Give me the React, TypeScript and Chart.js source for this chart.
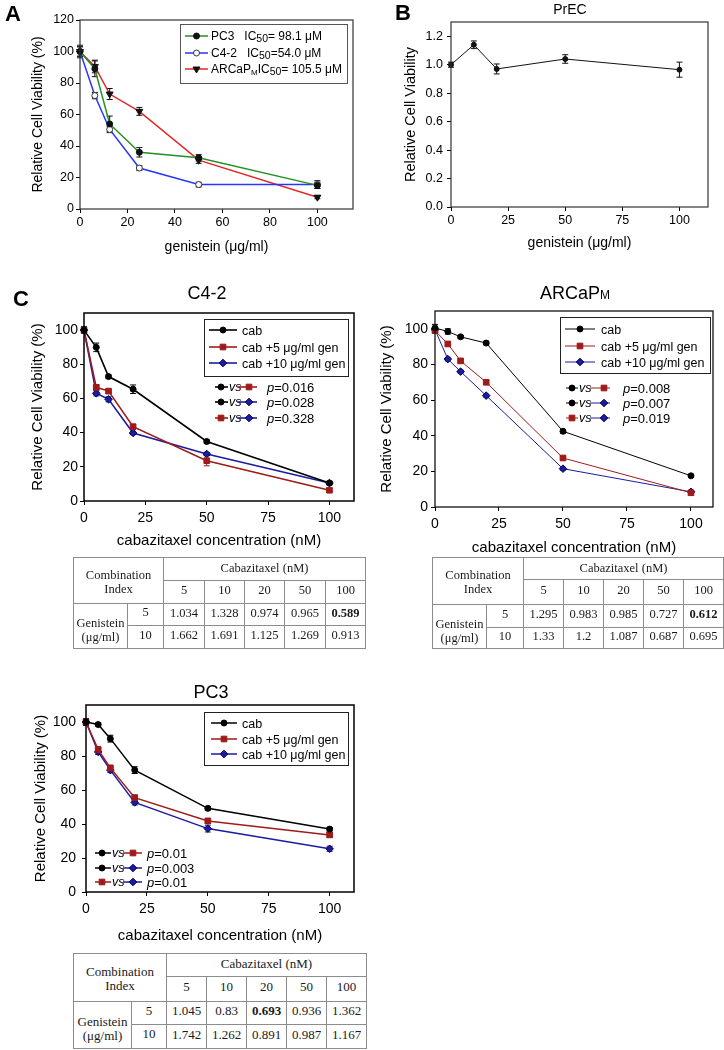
import React, { useEffect, useRef } from "react";
import { Chart, registerables } from "chart.js";
import { drawPoint } from "chart.js/helpers";
Chart.register(...registerables);

const SANS = '"Liberation Sans", Arial, Helvetica, sans-serif';
const SERIF = '"Liberation Serif", "Times New Roman", serif';

// ---------- Panel A data ----------
const genisteinDosesA = [0, 6.25, 12.5, 25, 50, 100];
const pc3ViabilityA = [100, 89, 54, 36, 32.5, 15];
const pc3ErrA = [4, 5, 5, 3, 2, 2];
const c42ViabilityA = [100, 72, 50.5, 26, 15.5, 15.5];
const c42ErrA = [3, 2, 2, 1.5, 1.5, 2.5];
const arcapViabilityA = [100, 90.5, 73, 62, 31, 7.5];
const arcapErrA = [3, 4, 3.5, 2.5, 2, 1];
const xTicksA = [0, 20, 40, 60, 80, 100];
const yTicksA = [0, 20, 40, 60, 80, 100, 120];

// ---------- Panel B data ----------
const genisteinDosesB = [0, 10, 20, 50, 100];
const precViability = [1.0, 1.14, 0.97, 1.04, 0.965];
const precErr = [0.018, 0.027, 0.035, 0.03, 0.053];
const xTicksB = [0, 25, 50, 75, 100];
const yTicksB = [0, 0.2, 0.4, 0.6, 0.8, 1.0, 1.2];

// ---------- Panel C data ----------
const cabDoses = [0, 5, 10, 20, 50, 100];
const xTicksC = [0, 25, 50, 75, 100];
const yTicksC = [0, 20, 40, 60, 80, 100];

const c42Cab = [100, 89.9, 72.8, 65.4, 34.8, 10.5];
const c42CabErr = [2, 2.5, 1, 2.5, 1, 1];
const c42Gen5 = [100, 66.5, 64.3, 43.5, 23.6, 6.3];
const c42Gen5Err = [1, 1.5, 1, 1, 3, 0.8];
const c42Gen10 = [100, 63, 59.5, 39.8, 27.5, 10.5];
const c42Gen10Err = [2, 1.5, 1.5, 1, 1, 1];
const c42PValues = ["0.016", "0.028", "0.328"];

const arcapCab = [100.5, 98.5, 95.5, 92, 42.5, 17.5];
const arcapCabErr = [2, 1.5, 0.8, 1, 1, 0.8];
const arcapGen5 = [99, 91.5, 82, 70, 27.5, 8];
const arcapGen5Err = [1.5, 1, 1, 1, 0.8, 0.8];
const arcapGen10 = [99.5, 83, 76, 62.5, 21.5, 8.5];
const arcapGen10Err = [1.5, 1, 0.8, 0.8, 0.8, 0.8];
const arcapPValues = ["0.008", "0.007", "0.019"];

const pc3Cab = [100, 98.5, 90.2, 71.7, 49.2, 37];
const pc3CabErr = [2, 1, 2, 2, 1, 1];
const pc3Gen5 = [100, 83.8, 73, 55.5, 41.8, 33.6];
const pc3Gen5Err = [1.5, 1.5, 1.5, 1.5, 1.5, 1.5];
const pc3Gen10 = [100, 82.4, 71.7, 52.7, 37.3, 25.4];
const pc3Gen10Err = [1.5, 1.5, 1.5, 1.5, 2, 1.5];
const pc3PValues = ["0.01", "0.003", "0.01"];

// ---------- Combination index tables ----------
const ciCabDoses = [5, 10, 20, 50, 100];
const ciGenDoses = [5, 10];
const c42CI5 = [1.034, 1.328, 0.974, 0.965, 0.589];
const c42CI10 = [1.662, 1.691, 1.125, 1.269, 0.913];
const arcapCI5 = [1.295, 0.983, 0.985, 0.727, 0.612];
const arcapCI10 = [1.33, 1.2, 1.087, 0.687, 0.695];
const pc3CI5 = [1.045, 0.83, 0.693, 0.936, 1.362];
const pc3CI10 = [1.742, 1.262, 0.891, 0.987, 1.167];

// ---------- types ----------
type Series = {
  xs: number[]; ys: number[]; errs: number[];
  color: string; lineWidth: number;
  pointStyle: string; radius: number; rotation?: number;
  fill: string; stroke: string; errColor: string;
};
type AxisSpec = {
  min: number; max: number; ticks: number[]; title: string; titleSize: number;
  titlePad: number; tickSize: number; tickPad: number; fmt?: (v: number) => string;
};
type PanelSpec = {
  width: number; height: number;
  area: { l: number; t: number; r: number; b: number };
  series: Series[]; x: AxisSpec; y: AxisSpec;
  frame: { color: string; width: number };
  overlay: (ctx: CanvasRenderingContext2D) => void;
};
type Run = { t: string; size: number; bold?: boolean; italic?: boolean; dy?: number };

// ---------- drawing helpers ----------
function runs(ctx: CanvasRenderingContext2D, rs: Run[], x: number, yc: number, align = "left", color = "#000") {
  ctx.save();
  ctx.textBaseline = "alphabetic";
  ctx.fillStyle = color;
  const f = (r: Run) => `${r.italic ? "italic " : ""}${r.bold ? "bold " : ""}${r.size}px ${SANS}`;
  let total = 0;
  rs.forEach((r) => { ctx.font = f(r); total += ctx.measureText(r.t).width; });
  let cx = align === "center" ? x - total / 2 : align === "right" ? x - total : x;
  const base = yc + rs[0].size * 0.36;
  rs.forEach((r) => {
    ctx.font = f(r);
    ctx.fillText(r.t, cx, base + (r.dy || 0));
    cx += ctx.measureText(r.t).width;
  });
  ctx.restore();
}
function marker(ctx: CanvasRenderingContext2D, s: Series, x: number, y: number) {
  ctx.save();
  ctx.fillStyle = s.fill;
  ctx.strokeStyle = s.stroke;
  ctx.lineWidth = 1;
  drawPoint(ctx, { pointStyle: s.pointStyle as any, rotation: s.rotation || 0, radius: s.radius, borderWidth: 1 } as any, x, y);
  ctx.restore();
}
function sample(ctx: CanvasRenderingContext2D, s: Series, x1: number, x2: number, y: number, mx?: number) {
  ctx.save();
  ctx.strokeStyle = s.color;
  ctx.lineWidth = s.lineWidth;
  ctx.beginPath(); ctx.moveTo(x1, y); ctx.lineTo(x2, y); ctx.stroke();
  ctx.restore();
  marker(ctx, s, mx === undefined ? (x1 + x2) / 2 : mx, y);
}
function box(ctx: CanvasRenderingContext2D, x1: number, y1: number, x2: number, y2: number, color: string) {
  ctx.save(); ctx.strokeStyle = color; ctx.lineWidth = 1;
  ctx.strokeRect(x1 + 0.5, y1 + 0.5, x2 - x1, y2 - y1); ctx.restore();
}
type PGeom = { a0: number; a1: number; am: number; vs: number; b0: number; b1: number; bm: number; px: number };
function pRow(ctx: CanvasRenderingContext2D, y: number, sa: Series, sb: Series, p: string, g: PGeom) {
  sample(ctx, sa, g.a0, g.a1, y, g.am);
  runs(ctx, [{ t: "vs", size: 12.5, italic: true }], g.vs, y - 1);
  sample(ctx, sb, g.b0, g.b1, y, g.bm);
  runs(ctx, [{ t: "p", size: 13, italic: true }, { t: "=" + p, size: 13 }], g.px, y);
}

// ---------- chart config ----------
function buildConfig(p: PanelSpec, ox: number, oy: number): any {
  const axis = (a: AxisSpec, isX: boolean) => ({
    type: "linear",
    min: a.min, max: a.max,
    afterBuildTicks: (s: any) => { s.ticks = a.ticks.map((v) => ({ value: v })); },
    afterFit: (s: any) => { if (isX) s.height = p.height - p.area.b; else s.width = p.area.l; },
    grid: { display: true, drawOnChartArea: false, drawTicks: true, tickLength: 4, color: "#000", lineWidth: 1 },
    border: { display: false },
    ticks: {
      font: { family: SANS, size: a.tickSize }, color: "#000", padding: a.tickPad,
      maxRotation: 0, autoSkip: false,
      callback: (v: any) => (a.fmt ? a.fmt(Number(v)) : String(v)),
    },
    title: {
      display: true, text: a.title, color: "#000", font: { family: SANS, size: a.titleSize },
      padding: isX ? { top: 0, bottom: a.titlePad } : { top: a.titlePad, bottom: 0 },
    },
  });
  const deco = {
    id: "deco",
    beforeDatasetsDraw(chart: any) {
      const ctx = chart.ctx as CanvasRenderingContext2D;
      const ys = chart.scales.y;
      chart.data.datasets.forEach((ds: any, di: number) => {
        const meta = chart.getDatasetMeta(di);
        ctx.save();
        ctx.strokeStyle = ds.errColor;
        ctx.lineWidth = 1;
        meta.data.forEach((pt: any, i: number) => {
          const v = ds.data[i].y, e = ds.errors[i];
          const y1 = ys.getPixelForValue(v + e), y2 = ys.getPixelForValue(v - e);
          ctx.beginPath();
          ctx.moveTo(pt.x, y1); ctx.lineTo(pt.x, y2);
          ctx.moveTo(pt.x - 3, y1); ctx.lineTo(pt.x + 3, y1);
          ctx.moveTo(pt.x - 3, y2); ctx.lineTo(pt.x + 3, y2);
          ctx.stroke();
        });
        ctx.restore();
      });
    },
    afterDraw(chart: any) {
      const ctx = chart.ctx as CanvasRenderingContext2D;
      const a = chart.chartArea;
      ctx.save();
      ctx.strokeStyle = p.frame.color;
      ctx.lineWidth = p.frame.width;
      ctx.strokeRect(a.left, a.top, a.right - a.left, a.bottom - a.top);
      ctx.restore();
      ctx.save();
      ctx.translate(-ox, -oy);
      p.overlay(ctx);
      ctx.restore();
    },
  };
  return {
    type: "line",
    data: {
      datasets: p.series.map((s) => ({
        data: s.xs.map((x, i) => ({ x, y: s.ys[i] })),
        errors: s.errs, errColor: s.errColor,
        borderColor: s.color, borderWidth: s.lineWidth, backgroundColor: s.fill,
        pointStyle: s.pointStyle, pointRadius: s.radius, pointRotation: s.rotation || 0,
        pointBackgroundColor: s.fill, pointBorderColor: s.stroke, pointBorderWidth: 1,
        tension: 0, fill: false, clip: false,
      })),
    },
    options: {
      responsive: false, maintainAspectRatio: false, animation: false, devicePixelRatio: 1,
      layout: { padding: { left: 0, top: p.area.t, right: p.width - p.area.r, bottom: 0 } },
      plugins: { legend: { display: false }, tooltip: { enabled: false }, title: { display: false } },
      scales: { x: axis(p.x, true), y: axis(p.y, false) },
    },
    plugins: [deco],
  };
}

function PanelChart({ left, top, spec }: { left: number; top: number; spec: PanelSpec }) {
  const ref = useRef<HTMLCanvasElement | null>(null);
  useEffect(() => {
    if (!ref.current) return;
    const chart = new Chart(ref.current, buildConfig(spec, left, top));
    return () => chart.destroy();
  }, []);
  return (
    <canvas ref={ref} width={spec.width} height={spec.height}
      style={{ position: "absolute", left, top, width: spec.width, height: spec.height }} />
  );
}

// ---------- series ----------
const A_GREEN = "#239023", A_BLUE = "#2a35ff", A_RED = "#e02828";
const sA_pc3: Series = { xs: genisteinDosesA, ys: pc3ViabilityA, errs: pc3ErrA, color: A_GREEN, lineWidth: 1.5, pointStyle: "circle", radius: 3, fill: "#111", stroke: "#111", errColor: "#111" };
const sA_c42: Series = { xs: genisteinDosesA, ys: c42ViabilityA, errs: c42ErrA, color: A_BLUE, lineWidth: 1.5, pointStyle: "circle", radius: 3, fill: "#fff", stroke: "#333", errColor: "#111" };
const sA_arc: Series = { xs: genisteinDosesA, ys: arcapViabilityA, errs: arcapErrA, color: A_RED, lineWidth: 1.5, pointStyle: "triangle", radius: 4, rotation: 180, fill: "#111", stroke: "#111", errColor: "#111" };
const sB: Series = { xs: genisteinDosesB, ys: precViability, errs: precErr, color: "#111", lineWidth: 1, pointStyle: "circle", radius: 2.5, fill: "#111", stroke: "#111", errColor: "#111" };

const C_BLACK = "#000", C_RED = "#9e1b1b", C_BLUE = "#1c1ca0";
function cSeries(ys: number[], errs: number[], kind: number, lw: number): Series {
  if (kind === 0) return { xs: cabDoses, ys, errs, color: C_BLACK, lineWidth: lw, pointStyle: "circle", radius: 3, fill: C_BLACK, stroke: C_BLACK, errColor: C_BLACK };
  if (kind === 1) return { xs: cabDoses, ys, errs, color: C_RED, lineWidth: lw, pointStyle: "rect", radius: 4, fill: C_RED, stroke: C_RED, errColor: C_RED };
  return { xs: cabDoses, ys, errs, color: C_BLUE, lineWidth: lw, pointStyle: "rectRot", radius: 3.8, fill: C_BLUE, stroke: "#000050", errColor: C_BLUE };
}
const sC42 = [cSeries(c42Cab, c42CabErr, 0, 1.6), cSeries(c42Gen5, c42Gen5Err, 1, 1.6), cSeries(c42Gen10, c42Gen10Err, 2, 1.6)];
const sArc = [cSeries(arcapCab, arcapCabErr, 0, 1), cSeries(arcapGen5, arcapGen5Err, 1, 1), cSeries(arcapGen10, arcapGen10Err, 2, 1)];
const sPc3 = [cSeries(pc3Cab, pc3CabErr, 0, 1.5), cSeries(pc3Gen5, pc3Gen5Err, 1, 1.5), cSeries(pc3Gen10, pc3Gen10Err, 2, 1.5)];
const legendLabels = ["cab", "cab +5 \u03bcg/ml gen", "cab +10 \u03bcg/ml gen"];

// ---------- panels ----------
const panelA: PanelSpec = {
  width: 360, height: 260, area: { l: 80, t: 20, r: 353, b: 209 },
  series: [sA_pc3, sA_c42, sA_arc],
  x: { min: 0, max: 115, ticks: xTicksA, title: "genistein (\u03bcg/ml)", titleSize: 14, titlePad: 4.6, tickSize: 12.5, tickPad: 2 },
  y: { min: 0, max: 120, ticks: yTicksA, title: "Relative Cell Viability (%)", titleSize: 14, titlePad: 29.6, tickSize: 12.5, tickPad: 2 },
  frame: { color: "#333", width: 1.2 },
  overlay: (ctx) => {
    runs(ctx, [{ t: "A", size: 22, bold: true }], 13, 13, "center");
    box(ctx, 180, 24, 347, 83, "#555");
    const rows: [Series, Run[], number][] = [
      [sA_pc3, [{ t: "PC3   IC", size: 12 }, { t: "50", size: 10.5, dy: 2 }, { t: "= 98.1 \u03bcM", size: 12 }], 36],
      [sA_c42, [{ t: "C4-2   IC", size: 12 }, { t: "50", size: 10.5, dy: 2 }, { t: "=54.0 \u03bcM", size: 12 }], 53],
      [sA_arc, [{ t: "ARCaP", size: 12 }, { t: "M", size: 8, dy: 2 }, { t: "IC", size: 12 }, { t: "50", size: 10.5, dy: 2 }, { t: "= 105.5 \u03bcM", size: 12 }], 69],
    ];
    rows.forEach(([s, r, y]) => { sample(ctx, s, 185, 208, y); runs(ctx, r, 211, y); });
  },
};

const panelB: PanelSpec = {
  width: 364, height: 260, area: { l: 91, t: 22, r: 348, b: 207 },
  series: [sB],
  x: { min: 0, max: 112.5, ticks: xTicksB, title: "genistein (\u03bcg/ml)", titleSize: 14, titlePad: 8.6, tickSize: 12.5, tickPad: 2 },
  y: { min: 0, max: 1.3, ticks: yTicksB, title: "Relative Cell Viability", titleSize: 14.5, titlePad: 42.3, tickSize: 12.5, tickPad: 4, fmt: (v) => v.toFixed(1) },
  frame: { color: "#333", width: 1.2 },
  overlay: (ctx) => {
    runs(ctx, [{ t: "B", size: 22, bold: true }], 403, 12, "center");
    runs(ctx, [{ t: "PrEC", size: 14 }], 570, 9, "center");
  },
};

function cOverlay(series: Series[], pv: string[], o: {
  title: Run[]; tx: number; ty: number; lb: [number, number, number, number];
  ly: number[]; lx: [number, number, number]; py: number[]; pg: PGeom; letter?: boolean;
}) {
  return (ctx: CanvasRenderingContext2D) => {
    if (o.letter) runs(ctx, [{ t: "C", size: 22, bold: true }], 21, 298, "center");
    runs(ctx, o.title, o.tx, o.ty, "center");
    box(ctx, o.lb[0], o.lb[1], o.lb[2], o.lb[3], "#222");
    series.forEach((s, i) => {
      sample(ctx, s, o.lx[0], o.lx[1], o.ly[i]);
      runs(ctx, [{ t: legendLabels[i], size: 12.5 }], o.lx[2], o.ly[i]);
    });
    const pairs: [number, number][] = [[0, 1], [0, 2], [1, 2]];
    pairs.forEach(([a, b], i) => pRow(ctx, o.py[i], series[a], series[b], pv[i], o.pg));
  };
}

const yTitleC = "Relative Cell Viability (%)";
const xTitleC = "cabazitaxel concentration (nM)";

const panelC42: PanelSpec = {
  width: 365, height: 290, area: { l: 84, t: 43, r: 354, b: 231 },
  series: sC42,
  x: { min: 0, max: 110, ticks: xTicksC, title: xTitleC, titleSize: 15, titlePad: 10, tickSize: 14, tickPad: 4.6 },
  y: { min: 0, max: 110, ticks: yTicksC, title: yTitleC, titleSize: 15, titlePad: 29, tickSize: 14, tickPad: 2 },
  frame: { color: "#000", width: 1.5 },
  overlay: cOverlay(sC42, c42PValues, {
    letter: true, title: [{ t: "C4-2", size: 18 }], tx: 207, ty: 293,
    lb: [204, 319, 348, 376], ly: [330, 347, 363], lx: [209, 237, 242],
    py: [387, 402, 418], pg: { a0: 215, a1: 228, am: 221, vs: 229, b0: 238, b1: 257, bm: 249, px: 267 },
  }),
};

const panelArc: PanelSpec = {
  width: 359, height: 290, area: { l: 70, t: 41, r: 348, b: 237 },
  series: sArc,
  x: { min: 0, max: 108.6, ticks: xTicksC, title: xTitleC, titleSize: 15, titlePad: 3, tickSize: 14, tickPad: 4.6 },
  y: { min: 0, max: 110, ticks: yTicksC, title: yTitleC, titleSize: 15, titlePad: 13, tickSize: 14, tickPad: 3 },
  frame: { color: "#111", width: 1.3 },
  overlay: cOverlay(sArc, arcapPValues, {
    title: [{ t: "ARCaP", size: 18 }, { t: "M", size: 12 }], tx: 575, ty: 293,
    lb: [560, 317, 710, 373], ly: [329, 346, 362], lx: [565, 595, 601],
    py: [388, 403, 418], pg: { a0: 566, a1: 578, am: 572, vs: 579, b0: 590, b1: 610, bm: 604, px: 623 },
  }),
};

const panelPc3: PanelSpec = {
  width: 365, height: 275, area: { l: 86, t: 30, r: 354, b: 217 },
  series: sPc3,
  x: { min: 0, max: 110, ticks: xTicksC, title: xTitleC, titleSize: 15, titlePad: 5, tickSize: 14, tickPad: 4.6 },
  y: { min: 0, max: 110, ticks: yTicksC, title: yTitleC, titleSize: 15, titlePad: 32, tickSize: 14, tickPad: 6 },
  frame: { color: "#000", width: 1.5 },
  overlay: cOverlay(sPc3, pc3PValues, {
    title: [{ t: "PC3", size: 18 }], tx: 211, ty: 692,
    lb: [204, 712, 348, 765], ly: [723, 739, 754], lx: [211, 237, 242],
    py: [853, 868, 882], pg: { a0: 95, a1: 111, am: 102, vs: 112, b0: 123, b1: 142, bm: 133, px: 147 },
  }),
};

// ---------- tables ----------
function CITable({ xs, ys, size, row5, row10, bold }: {
  xs: number[]; ys: number[]; size: number; row5: number[]; row10: number[]; bold: [number, number];
}) {
  const cells: React.ReactNode[] = [];
  const cell = (key: string, c0: number, r0: number, c1: number, r1: number, content: React.ReactNode, extra: any = {}) =>
    cells.push(
      <div key={key} style={{
        position: "absolute", left: xs[c0], top: ys[r0], width: xs[c1] - xs[c0] + 1, height: ys[r1] - ys[r0] + 1,
        boxSizing: "border-box", border: "1px solid #8c8c8c", display: "flex", alignItems: "center",
        justifyContent: "center", textAlign: "center", lineHeight: "14px", fontFamily: SERIF, fontSize: size,
        color: "#1a1a1a", ...extra,
      }}>{content}</div>
    );
  cell("ci", 0, 0, 2, 2, <span>Combination<br />Index</span>, { paddingTop: 2 });
  cell("cab", 2, 0, 7, 1, "Cabazitaxel (nM)", { paddingBottom: 2 });
  ciCabDoses.forEach((d, i) => cell("d" + i, 2 + i, 1, 3 + i, 2, String(d), { paddingBottom: 4 }));
  cell("gen", 0, 2, 1, 4, <span>Genistein<br />({"\u03bc"}g/ml)</span>, { paddingTop: 8 });
  ciGenDoses.forEach((g, j) => cell("g" + j, 1, 2 + j, 2, 3 + j, String(g), { paddingBottom: 5 }));
  [row5, row10].forEach((row, j) =>
    row.forEach((v, i) =>
      cell(`v${j}${i}`, 2 + i, 2 + j, 3 + i, 3 + j, String(v), {
        paddingBottom: 4, fontWeight: bold[0] === j && bold[1] === i ? "bold" : "normal",
      })
    )
  );
  return <>{cells}</>;
}

export default function App() {
  return (
    <div style={{ position: "absolute", left: 0, top: 0, width: 724, height: 1050, background: "#fff", overflow: "hidden" }}>
      <PanelChart left={0} top={0} spec={panelA} />
      <PanelChart left={360} top={0} spec={panelB} />
      <PanelChart left={0} top={270} spec={panelC42} />
      <PanelChart left={365} top={270} spec={panelArc} />
      <PanelChart left={0} top={675} spec={panelPc3} />
      <CITable xs={[73, 127, 163, 204, 244, 284, 325, 365]} ys={[557, 580, 603, 625, 648]} size={12.5} row5={c42CI5} row10={c42CI10} bold={[0, 4]} />
      <CITable xs={[432, 486, 523, 563, 603, 643, 683, 723]} ys={[557, 579, 604, 627, 648]} size={12.5} row5={arcapCI5} row10={arcapCI10} bold={[0, 4]} />
      <CITable xs={[73, 131, 166, 206, 246, 286, 326, 366]} ys={[953, 976, 1001, 1024, 1048]} size={13} row5={pc3CI5} row10={pc3CI10} bold={[0, 2]} />
    </div>
  );
}
